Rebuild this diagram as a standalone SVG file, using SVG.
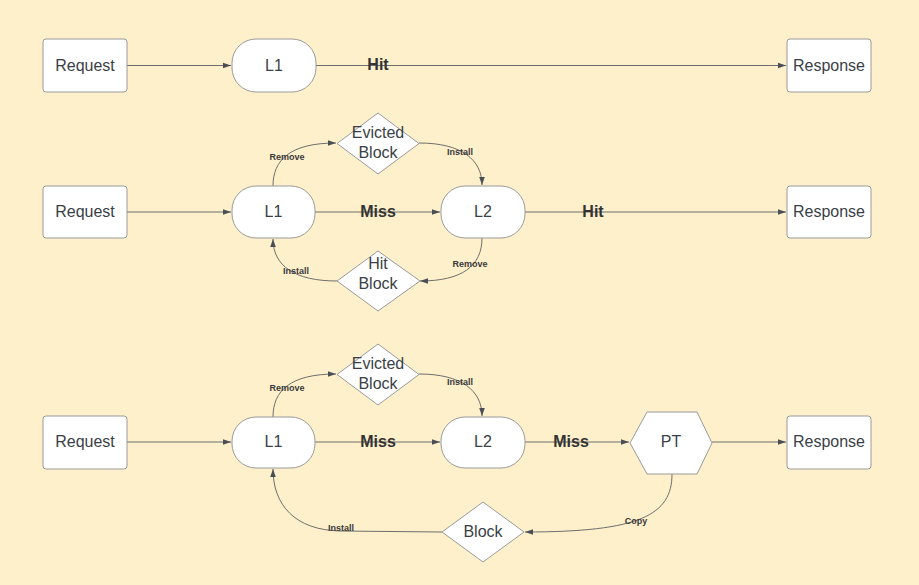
<svg xmlns="http://www.w3.org/2000/svg" width="919" height="585" viewBox="0 0 919 585">
<defs>
<marker id="ah" viewBox="0 0 10 10" refX="10" refY="5" markerWidth="8" markerHeight="8" markerUnits="userSpaceOnUse" orient="auto">
<path d="M0,1.5 L10,5 L0,8.5 Z" fill="#4a4f57"/>
</marker>
<style>
.bg{fill:#fef0cb}
.n{fill:#ffffff;stroke:#9a9a9a;stroke-width:1}
.t{font-family:"Liberation Sans",Arial,sans-serif;font-size:16px;fill:#3a3f47;text-anchor:middle;dominant-baseline:central}
.c{fill:none;stroke:#6e6e6e;stroke-width:1;marker-end:url(#ah)}
.b{font-family:"Liberation Sans",Arial,sans-serif;font-size:16px;font-weight:bold;fill:#333;text-anchor:middle;dominant-baseline:central}
.s{font-family:"Liberation Sans",Arial,sans-serif;font-size:9px;font-weight:bold;fill:#3a3a3a;text-anchor:middle;dominant-baseline:central}
</style>
</defs>
<rect class="bg" x="0" y="0" width="919" height="585"/>

<g id="connectors">
<!-- row 1 -->
<path class="c" d="M127,65.5 L231,65.5"/>
<path class="c" d="M316,65.5 L786,65.5"/>
<!-- row 2 -->
<path class="c" d="M127,212 L231,212"/>
<path class="c" d="M315,212 L440,212"/>
<path class="c" d="M525,212 L786,212"/>
<path class="c" d="M273,186 C273,160 290,143 336,143"/>
<path class="c" d="M419,143 C462,143 482,160 482,185"/>
<path class="c" d="M482,238 C482,266 462,281 420,281"/>
<path class="c" d="M337,281 C295,281 273,266 273,239"/>
<!-- row 3 -->
<path class="c" d="M127,442 L231,442"/>
<path class="c" d="M315,442 L440,442"/>
<path class="c" d="M525,442 L629,442"/>
<path class="c" d="M712,442 L786,442"/>
<path class="c" d="M273,417 C273,391 290,374 336,374"/>
<path class="c" d="M419,374 C462,374 482,391 482,416"/>
<path class="c" d="M672,474 C672,515 640,532 525,532"/>
<path class="c" d="M442,532 L340,531 C295,530 273,505 273,469"/>
<!-- labels -->
<text class="b" x="378" y="64">Hit</text>
<text class="b" x="378" y="211">Miss</text>
<text class="b" x="593" y="211">Hit</text>
<text class="b" x="378" y="441">Miss</text>
<text class="b" x="571" y="441">Miss</text>
<text class="s" x="287" y="157">Remove</text>
<text class="s" x="460" y="152">Install</text>
<text class="s" x="470" y="264">Remove</text>
<text class="s" x="296" y="271">Install</text>
<text class="s" x="287" y="388">Remove</text>
<text class="s" x="460" y="382">Install</text>
<text class="s" x="341" y="528">Install</text>
<text class="s" x="636" y="521">Copy</text>
</g>

<g id="request1"><rect class="n" x="43" y="39" width="84" height="53" rx="3"/><text class="t" x="85" y="65">Request</text></g>
<g id="l1-1"><rect class="n" x="232" y="39" width="84" height="53" rx="24"/><text class="t" x="274" y="65">L1</text></g>
<g id="response1"><rect class="n" x="787" y="39" width="84" height="53" rx="3"/><text class="t" x="829" y="65">Response</text></g>

<g id="request2"><rect class="n" x="43" y="186" width="84" height="52" rx="3"/><text class="t" x="85" y="211">Request</text></g>
<g id="l1-2"><rect class="n" x="232" y="186" width="83" height="52" rx="24"/><text class="t" x="273.5" y="211">L1</text></g>
<g id="l2-2"><rect class="n" x="441" y="186" width="84" height="52" rx="24"/><text class="t" x="483" y="211">L2</text></g>
<g id="response2"><rect class="n" x="787" y="186" width="84" height="52" rx="3"/><text class="t" x="829" y="211">Response</text></g>
<g id="evicted2"><polygon class="n" points="378,113 419,143.5 378,174 337,143.5" stroke-linejoin="round"/><text class="t" x="378" y="132">Evicted</text><text class="t" x="378" y="152">Block</text></g>
<g id="hitblock2"><polygon class="n" points="378,251 420,281 378,311 337,281" stroke-linejoin="round"/><text class="t" x="378" y="263">Hit</text><text class="t" x="378" y="283">Block</text></g>

<g id="request3"><rect class="n" x="43" y="416" width="84" height="53" rx="3"/><text class="t" x="85" y="441">Request</text></g>
<g id="l1-3"><rect class="n" x="232" y="417" width="83" height="51" rx="24"/><text class="t" x="273.5" y="441">L1</text></g>
<g id="l2-3"><rect class="n" x="441" y="417" width="84" height="51" rx="24"/><text class="t" x="483" y="441">L2</text></g>
<g id="pt3"><polygon class="n" points="647,412 697,412 712,443 697,474 647,474 630,443" stroke-linejoin="round"/><text class="t" x="671" y="441">PT</text></g>
<g id="response3"><rect class="n" x="787" y="416" width="84" height="53" rx="3"/><text class="t" x="829" y="441">Response</text></g>
<g id="evicted3"><polygon class="n" points="378,344 419,374.5 378,405 337,374.5" stroke-linejoin="round"/><text class="t" x="378" y="363">Evicted</text><text class="t" x="378" y="383">Block</text></g>
<g id="block3"><polygon class="n" points="483,502 524,532 483,562 442,532" stroke-linejoin="round"/><text class="t" x="483" y="531">Block</text></g>
</svg>
